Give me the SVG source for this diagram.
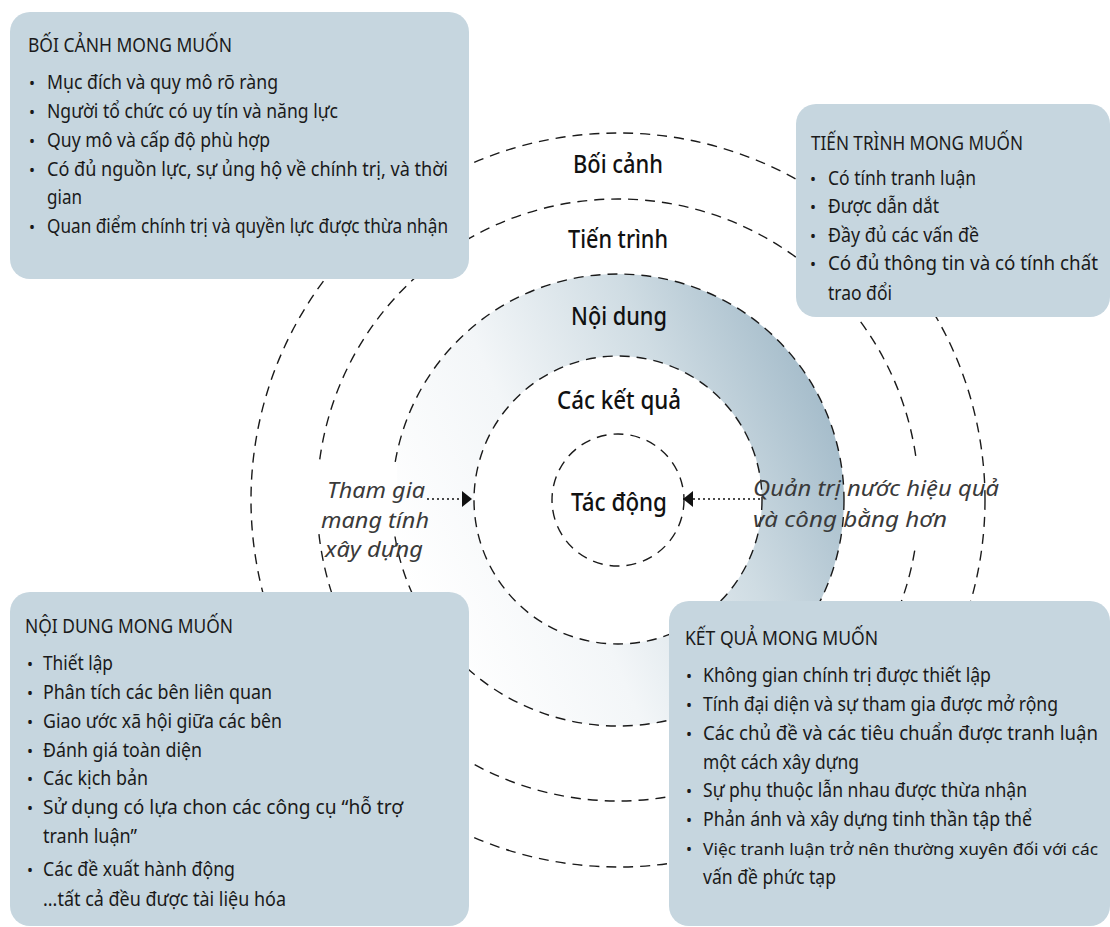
<svg xmlns="http://www.w3.org/2000/svg" width="1110" height="927" viewBox="0 0 1110 927">
<defs>
<linearGradient id="ringGrad" gradientUnits="userSpaceOnUse" x1="411" y1="591" x2="825" y2="409">
<stop offset="0" stop-color="#ffffff"/>
<stop offset="0.35" stop-color="#f3f6f8"/>
<stop offset="0.7" stop-color="#cfdce3"/>
<stop offset="1" stop-color="#a6bdcb"/>
</linearGradient>
<marker id="tri" markerUnits="userSpaceOnUse" markerWidth="11" markerHeight="17" refX="10" refY="8" orient="auto">
<path d="M0,0 L10,8 L0,16 Z" fill="#111"/>
</marker>
<style>
.ring{fill:none;stroke:#1a1a1a;stroke-width:1.4;stroke-dasharray:10 7}
.box{fill:#c6d6df}
.t{font-family:"Noto Sans","Open Sans","Liberation Sans",sans-serif;font-size:20px;fill:#1a1a1a}
.s19{font-size:19px}
.s17{font-size:17px}
.b{font-family:"Noto Sans","Open Sans","Liberation Sans",sans-serif;font-size:16px;fill:#1a1a1a;text-anchor:middle}
.lbl{font-family:"Noto Sans","Open Sans","Liberation Sans",sans-serif;font-size:25px;font-weight:500;fill:#111}
.it{font-family:"Noto Sans","Open Sans","Liberation Sans",sans-serif;font-size:22px;font-style:italic;fill:#3a3a3a}
.dot{stroke:#111;stroke-width:1.5;stroke-dasharray:2 3;fill:none}
</style>
</defs>

<rect width="1110" height="927" fill="#ffffff"/>

<g id="ring-noi-dung-fill">
<path d="M844,500 A226,226 0 1 0 392,500 A226,226 0 1 0 844,500 Z M762,500 A144,144 0 1 1 474,500 A144,144 0 1 1 762,500 Z" fill="url(#ringGrad)" fill-rule="evenodd"/>
</g>

<g id="ring-boi-canh">
<circle class="ring" cx="618" cy="500" r="367"/>
<text class="lbl" x="573" y="173" textLength="90" lengthAdjust="spacingAndGlyphs">Bối cảnh</text>
</g>
<g id="ring-tien-trinh">
<circle class="ring" cx="618" cy="500" r="301"/>
<text class="lbl" x="568" y="248" textLength="100" lengthAdjust="spacingAndGlyphs">Tiến trình</text>
</g>
<g id="ring-noi-dung">
<circle class="ring" cx="618" cy="500" r="226"/>
<text class="lbl" x="571" y="325" textLength="96" lengthAdjust="spacingAndGlyphs">Nội dung</text>
</g>
<g id="ring-ket-qua">
<circle class="ring" cx="618" cy="500" r="144"/>
<text class="lbl" x="557" y="409" textLength="124" lengthAdjust="spacingAndGlyphs">Các kết quả</text>
</g>
<g id="ring-tac-dong">
<circle class="ring" cx="618" cy="500" r="66"/>
<text class="lbl" x="571" y="511" textLength="96" lengthAdjust="spacingAndGlyphs">Tác động</text>
</g>

<rect x="300" y="464" width="97" height="70" fill="#ffffff"/>
<rect x="880" y="458" width="80" height="88" fill="#ffffff"/>

<g id="label-tham-gia">
<text class="it" x="327" y="498" textLength="98" lengthAdjust="spacingAndGlyphs">Tham gia</text>
<text class="it" x="321" y="528" textLength="108" lengthAdjust="spacingAndGlyphs">mang tính</text>
<text class="it" x="325" y="557" textLength="98" lengthAdjust="spacingAndGlyphs">xây dựng</text>
</g>
<g id="label-quan-tri">
<text class="it" x="753" y="496" textLength="246" lengthAdjust="spacingAndGlyphs">Quản trị nước hiệu quả</text>
<text class="it" x="753" y="527" textLength="194" lengthAdjust="spacingAndGlyphs">và công bằng hơn</text>
</g>

<g id="connectors">
<line class="dot" x1="427" y1="499" x2="472" y2="499" marker-end="url(#tri)"/>
<line class="dot" x1="760" y1="499" x2="683" y2="499" marker-end="url(#tri)"/>
</g>

<g id="box-boi-canh">
<rect class="box" x="10" y="12" width="459" height="267" rx="20"/>
<text class="t" x="28" y="52" textLength="204" lengthAdjust="spacingAndGlyphs">BỐI CẢNH MONG MUỐN</text>
<text class="b" x="32" y="89">•</text>
<text class="t" x="47" y="89" textLength="231" lengthAdjust="spacingAndGlyphs">Mục đích và quy mô rõ ràng</text>
<text class="b" x="32" y="118">•</text>
<text class="t" x="47" y="118" textLength="291" lengthAdjust="spacingAndGlyphs">Người tổ chức có uy tín và năng lực</text>
<text class="b" x="32" y="147">•</text>
<text class="t" x="47" y="147" textLength="223" lengthAdjust="spacingAndGlyphs">Quy mô và cấp độ phù hợp</text>
<text class="b" x="32" y="176">•</text>
<text class="t" x="47" y="176" textLength="401" lengthAdjust="spacingAndGlyphs">Có đủ nguồn lực, sự ủng hộ về chính trị, và thời</text>
<text class="t" x="47" y="204" textLength="35" lengthAdjust="spacingAndGlyphs">gian</text>
<text class="b" x="32" y="233">•</text>
<text class="t" x="47" y="233" textLength="401" lengthAdjust="spacingAndGlyphs">Quan điểm chính trị và quyền lực được thừa nhận</text>
</g>

<g id="box-tien-trinh">
<rect class="box" x="796" y="104" width="314" height="213" rx="20"/>
<text class="t" x="811" y="150" textLength="212" lengthAdjust="spacingAndGlyphs">TIẾN TRÌNH MONG MUỐN</text>
<text class="b" x="813" y="185">•</text>
<text class="t" x="828" y="185" textLength="148" lengthAdjust="spacingAndGlyphs">Có tính tranh luận</text>
<text class="b" x="813" y="213">•</text>
<text class="t" x="828" y="213" textLength="111" lengthAdjust="spacingAndGlyphs">Được dẫn dắt</text>
<text class="b" x="813" y="242">•</text>
<text class="t" x="828" y="242" textLength="151" lengthAdjust="spacingAndGlyphs">Đầy đủ các vấn đề</text>
<text class="b" x="813" y="270">•</text>
<text class="t s19" x="828" y="270" textLength="270" lengthAdjust="spacingAndGlyphs">Có đủ thông tin và có tính chất</text>
<text class="t" x="828" y="300" textLength="64" lengthAdjust="spacingAndGlyphs">trao đổi</text>
</g>

<g id="box-noi-dung">
<rect class="box" x="10" y="592" width="459" height="334" rx="20"/>
<text class="t" x="25" y="633" textLength="208" lengthAdjust="spacingAndGlyphs">NỘI DUNG MONG MUỐN</text>
<text class="b" x="30" y="670">•</text>
<text class="t" x="43" y="670" textLength="70" lengthAdjust="spacingAndGlyphs">Thiết lập</text>
<text class="b" x="30" y="699">•</text>
<text class="t" x="43" y="699" textLength="229" lengthAdjust="spacingAndGlyphs">Phân tích các bên liên quan</text>
<text class="b" x="30" y="728">•</text>
<text class="t" x="43" y="728" textLength="239" lengthAdjust="spacingAndGlyphs">Giao ước xã hội giữa các bên</text>
<text class="b" x="30" y="757">•</text>
<text class="t" x="43" y="757" textLength="159" lengthAdjust="spacingAndGlyphs">Đánh giá toàn diện</text>
<text class="b" x="30" y="785">•</text>
<text class="t" x="43" y="785" textLength="105" lengthAdjust="spacingAndGlyphs">Các kịch bản</text>
<text class="b" x="30" y="814">•</text>
<text class="t" x="43" y="814" textLength="360" lengthAdjust="spacingAndGlyphs">Sử dụng có lựa chon các công cụ “hỗ trợ</text>
<text class="t" x="43" y="843" textLength="94" lengthAdjust="spacingAndGlyphs">tranh luận”</text>
<text class="b" x="30" y="876">•</text>
<text class="t" x="43" y="876" textLength="192" lengthAdjust="spacingAndGlyphs">Các đề xuất hành động</text>
<text class="t" x="43" y="906" textLength="243" lengthAdjust="spacingAndGlyphs">...tất cả đều được tài liệu hóa</text>
</g>

<g id="box-ket-qua">
<rect class="box" x="669" y="601" width="441" height="325" rx="20"/>
<text class="t" x="685" y="645" textLength="193" lengthAdjust="spacingAndGlyphs">KẾT QUẢ MONG MUỐN</text>
<text class="b" x="689" y="682">•</text>
<text class="t" x="703" y="682" textLength="288" lengthAdjust="spacingAndGlyphs">Không gian chính trị được thiết lập</text>
<text class="b" x="689" y="711">•</text>
<text class="t" x="703" y="711" textLength="355" lengthAdjust="spacingAndGlyphs">Tính đại diện và sự tham gia được mở rộng</text>
<text class="b" x="689" y="740">•</text>
<text class="t s19" x="703" y="740" textLength="395" lengthAdjust="spacingAndGlyphs">Các chủ đề và các tiêu chuẩn được tranh luận</text>
<text class="t" x="703" y="769" textLength="156" lengthAdjust="spacingAndGlyphs">một cách xây dựng</text>
<text class="b" x="689" y="797">•</text>
<text class="t" x="703" y="797" textLength="324" lengthAdjust="spacingAndGlyphs">Sự phụ thuộc lẫn nhau được thừa nhận</text>
<text class="b" x="689" y="826">•</text>
<text class="t" x="703" y="826" textLength="329" lengthAdjust="spacingAndGlyphs">Phản ánh và xây dựng tinh thần tập thể</text>
<text class="b" x="689" y="855">•</text>
<text class="t s17" x="703" y="855" textLength="395" lengthAdjust="spacingAndGlyphs">Việc tranh luận trở nên thường xuyên đối với các</text>
<text class="t" x="703" y="884" textLength="133" lengthAdjust="spacingAndGlyphs">vấn đề phức tạp</text>
</g>
</svg>
